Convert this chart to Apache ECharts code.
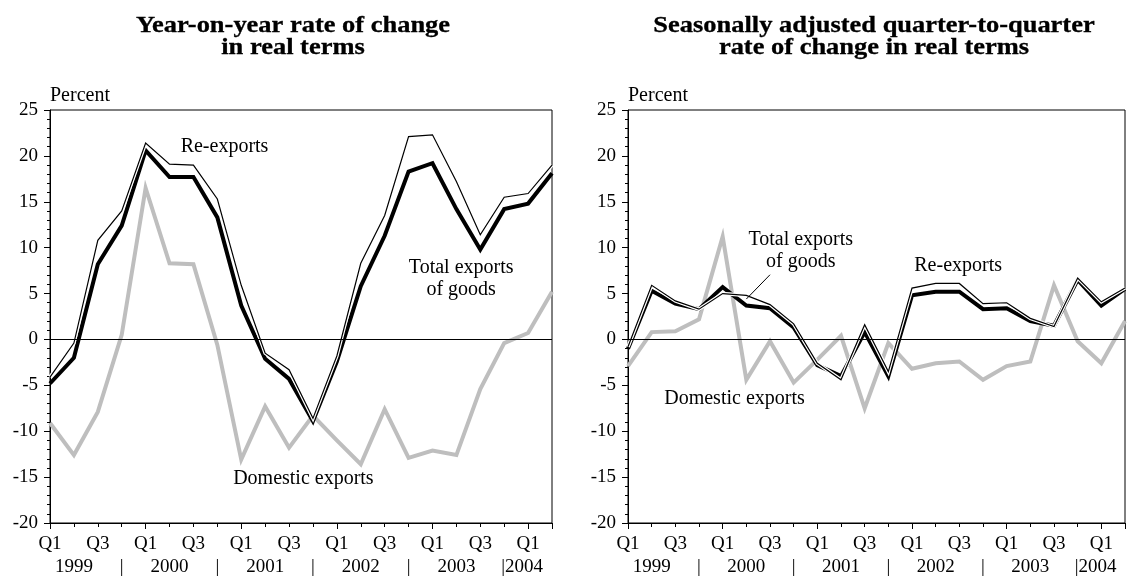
<!DOCTYPE html>
<html>
<head>
<meta charset="utf-8">
<script src="https://cdn.jsdelivr.net/npm/echarts@6/dist/echarts.min.js"></script>
<style>
  html, body { margin: 0; padding: 0; background: #fff; }
  #chart { width: 1128px; height: 577px; }
</style>
</head>
<body>
<div id="chart"></div>
<script>
// Quarterly categories, 1999 Q1 to 2004 Q2
const quarters = [
  '1999Q1','1999Q2','1999Q3','1999Q4',
  '2000Q1','2000Q2','2000Q3','2000Q4',
  '2001Q1','2001Q2','2001Q3','2001Q4',
  '2002Q1','2002Q2','2002Q3','2002Q4',
  '2003Q1','2003Q2','2003Q3','2003Q4',
  '2004Q1','2004Q2'
];
// First row of x-axis labels
const quarterTicks = [
  'Q1','','Q3','', 'Q1','','Q3','', 'Q1','','Q3','',
  'Q1','','Q3','', 'Q1','','Q3','', 'Q1',''
];
// Second row of x-axis labels: years and separators
const yearTicks = [
  '','1999','','|', '','2000','','|', '','2001','','|',
  '','2002','','|', '','2003','','|2004', '',''
];
const yTicks = { min: -20, max: 25, step: 5 };

// Year-on-year rate of change in real terms (percent)
const yoyTotal    = [-4.8, -2.0, 8.2, 12.4, 20.6, 17.7, 17.7, 13.3, 3.7, -2.1, -4.3, -8.9, -2.4, 5.8, 11.3, 18.3, 19.2, 14.2, 9.8, 14.2, 14.8, 18.1];
const yoyReexport = [-4.1, -0.4, 10.8, 14.0, 21.4, 19.1, 19.0, 15.3, 5.9, -1.5, -3.3, -8.6, -1.8, 8.3, 13.5, 22.1, 22.3, 17.2, 11.4, 15.5, 15.9, 19.0];
const yoyDomestic = [-9.1, -12.6, -7.9, 0.5, 16.5, 8.3, 8.2, -0.6, -13.1, -7.3, -11.8, -8.3, -11.0, -13.6, -7.6, -12.9, -12.1, -12.6, -5.4, -0.4, 0.7, 5.2];

// Seasonally adjusted quarter-to-quarter rate of change in real terms (percent)
const qoqTotal    = [-1.0, 5.3, 3.9, 3.3, 5.7, 3.7, 3.4, 1.3, -2.8, -4.0, 0.8, -4.0, 4.8, 5.2, 5.2, 3.3, 3.4, 2.0, 1.5, 6.5, 3.7, 5.5];
const qoqReexport = [-0.8, 5.9, 4.2, 3.3, 5.0, 4.8, 3.8, 1.7, -2.6, -4.4, 1.6, -3.5, 5.6, 6.1, 6.1, 3.9, 4.0, 2.3, 1.4, 6.7, 4.1, 5.6];
const qoqDomestic = [-2.9, 0.8, 0.9, 2.2, 11.2, -4.4, -0.2, -4.7, -2.2, 0.4, -7.5, -0.4, -3.2, -2.6, -2.4, -4.4, -2.9, -2.4, 5.9, -0.2, -2.6, 2.0];

const FONT = 'Liberation Serif';
const BLACK = '#000';
const GREY = '#bebebe';

const chart = echarts.init(document.getElementById('chart'), null, { renderer: 'canvas' });

const grids = [
  { left: 50, top: 110, width: 502, height: 415 },
  { left: 628, top: 110, width: 503, height: 415 }
];

function xAxesFor(g) {
  return [
    {
      type: 'category', gridIndex: g, data: quarters, boundaryGap: false, position: 'bottom',
      axisLine: { show: true, onZero: false, lineStyle: { color: BLACK, width: 1 } },
      axisTick: { show: true, interval: 0, length: 4, lineStyle: { color: BLACK } },
      axisLabel: {
        interval: 0, margin: 12, color: BLACK, fontFamily: FONT, fontSize: 19,
        formatter: (v, i) => quarterTicks[i]
      },
      splitLine: { show: false }
    },
    {
      type: 'category', gridIndex: g, data: quarters.map((q, i) => (
        yearTicks[i].charAt(0) === '|' && yearTicks[i].length > 1
          ? { value: q, textStyle: { align: 'left', padding: [0, 0, 0, -3] } }
          : q
      )), boundaryGap: false, position: 'bottom',
      axisLine: { show: false, onZero: false },
      axisTick: { show: true, interval: 3, length: 6, lineStyle: { color: BLACK } },
      axisLabel: {
        interval: 0, margin: 35, color: BLACK, fontFamily: FONT, fontSize: 19,
        formatter: (v, i) => yearTicks[i]
      },
      splitLine: { show: false }
    }
  ];
}

function yAxisFor(g) {
  return {
    type: 'value', gridIndex: g, min: yTicks.min, max: yTicks.max, interval: yTicks.step,
    name: 'Percent', nameLocation: 'end', nameGap: 4,
    nameTextStyle: { color: BLACK, fontFamily: FONT, fontSize: 20, align: 'left', verticalAlign: 'bottom' },
    axisLine: { show: true, onZero: false, lineStyle: { color: BLACK, width: 1 } },
    axisTick: { show: true, length: 6, lineStyle: { color: BLACK } },
    minorTick: { show: true, splitNumber: 5, length: 3, lineStyle: { color: BLACK } },
    axisLabel: { color: BLACK, fontFamily: FONT, fontSize: 19, margin: 12 },
    splitLine: { show: false },
    minorSplitLine: { show: false }
  };
}

function seriesFor(g, total, reexp, domestic) {
  const axes = { xAxisIndex: g * 2, yAxisIndex: g };
  const base = { type: 'line', showSymbol: false, symbol: 'none', silent: true, animation: false, ...axes };
  return [
    {
      ...base, name: 'Domestic exports', data: domestic,
      lineStyle: { color: GREY, width: 4, join: 'miter' },
      markLine: {
        silent: true, symbol: 'none', label: { show: false }, animation: false,
        lineStyle: { color: BLACK, width: 1, type: 'solid' },
        data: [{ yAxis: 0 }]
      }
    },
    { ...base, name: 'Total exports of goods', data: total, lineStyle: { color: BLACK, width: 4, join: 'miter' } },
    { ...base, name: 'Re-exports casing', data: reexp, lineStyle: { color: '#fff', width: 3.6, join: 'miter' } },
    { ...base, name: 'Re-exports', data: reexp, lineStyle: { color: BLACK, width: 1.2, join: 'miter' } }
  ];
}

function titleText(x, y, text) {
  return {
    type: 'text', x: x, y: y, scaleX: 1.15, silent: true,
    style: {
      text: text, fontFamily: FONT, fontSize: 23, fontWeight: 'bold',
      fill: BLACK, stroke: BLACK, lineWidth: 0.3, align: 'center', verticalAlign: 'middle'
    }
  };
}

chart.setOption({
  animation: false,
  backgroundColor: '#fff',
  grid: grids.map(g => ({ ...g, show: true, borderColor: BLACK, borderWidth: 1, backgroundColor: 'transparent' })),
  xAxis: [...xAxesFor(0), ...xAxesFor(1)],
  yAxis: [yAxisFor(0), yAxisFor(1)],
  series: [
    ...seriesFor(0, yoyTotal, yoyReexport, yoyDomestic),
    ...seriesFor(1, qoqTotal, qoqReexport, qoqDomestic)
  ]
});

// Data-space anchor for annotation text: fractional category index and value
function toPixel(g, idx, val) {
  const p0 = chart.convertToPixel({ gridIndex: g }, [0, val]);
  const p1 = chart.convertToPixel({ gridIndex: g }, [1, val]);
  return [p0[0] + (p1[0] - p0[0]) * idx, p0[1]];
}

const notes = [
  { g: 0, idx: 7.3,  val: 21.0,  text: 'Re-exports' },
  { g: 0, idx: 17.2, val: 6.6,   text: 'Total exports\nof goods' },
  { g: 0, idx: 10.6, val: -15.2, text: 'Domestic exports' },
  { g: 1, idx: 7.3,  val: 9.7,   text: 'Total exports\nof goods' },
  { g: 1, idx: 13.95, val: 8.0,  text: 'Re-exports' },
  { g: 1, idx: 4.5,  val: -6.5,  text: 'Domestic exports' }
];
const leader = { g: 1, from: [6.0, 7.05], to: [5.0, 4.4] };

const graphics = [
  titleText(293, 26, 'Year-on-year rate of change'),
  titleText(293, 48, 'in real terms'),
  titleText(874, 26, 'Seasonally adjusted quarter-to-quarter'),
  titleText(874, 48, 'rate of change in real terms')
];
notes.forEach(n => {
  const p = toPixel(n.g, n.idx, n.val);
  graphics.push({
    type: 'text', x: p[0], y: p[1], silent: true, z: 100,
    style: {
      text: n.text, fontFamily: FONT, fontSize: 20, fill: BLACK, lineHeight: 22,
      align: 'center', verticalAlign: 'middle'
    }
  });
});
const a = toPixel(leader.g, leader.from[0], leader.from[1]);
const b = toPixel(leader.g, leader.to[0], leader.to[1]);
graphics.push({
  type: 'line', silent: true, z: 100,
  shape: { x1: a[0], y1: a[1], x2: b[0], y2: b[1] },
  style: { stroke: BLACK, lineWidth: 1 }
});

chart.setOption({ graphic: graphics });
</script>
</body>
</html>
